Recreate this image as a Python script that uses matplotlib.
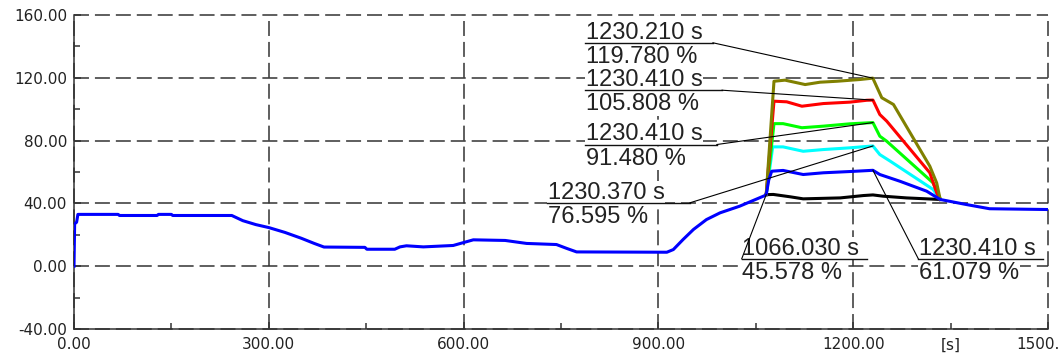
import matplotlib.pyplot as plt
from matplotlib.ticker import FixedLocator, FixedFormatter
from matplotlib.transforms import offset_copy

plt.rcParams['font.family'] = ['Liberation Sans', 'DejaVu Sans']

# blue trace, whole run
blue_t = [0, 1, 4, 6, 68, 70, 128, 130, 150, 152, 243, 260, 280, 300, 325, 350,
          370, 385, 448, 451, 494, 502, 512, 538, 584, 602, 615, 664, 697, 743,
          759, 774, 913, 923, 938, 954, 974, 995, 1025, 1064, 1066.03, 1070,
          1074.5, 1092, 1123, 1154, 1195, 1230.41, 1241, 1272, 1313, 1334, 1374,
          1410, 1500]
blue_v = [0, 27, 28, 33, 33, 32.3, 32.3, 33, 33, 32.3, 32.3, 29, 26.5, 24.6, 21.5,
          17.8, 14.5, 12.2, 12, 10.8, 10.8, 12.3, 13, 12.3, 13.2, 15.3, 16.8, 16.4,
          14.5, 13.8, 11.3, 9.1, 8.9, 10.6, 17, 23.4, 29.7, 34, 38.2, 45, 45.578,
          55, 60.5, 61, 58.4, 59.5, 60.3, 61.079, 58.4, 54.1, 47.8, 42.5, 39.3,
          36.6, 36.1]

# traces that only exist during the step
black_t = [1066.03, 1077, 1103, 1123, 1180, 1215.6, 1230.4, 1246, 1282, 1334]
black_v = [45.578, 45.7, 44.2, 42.9, 43.5, 45.0, 45.4, 44.6, 43.5, 42.5]

cyan_t = [1066.03, 1076, 1092, 1123, 1154, 1195, 1230.37, 1241, 1257, 1323, 1334]
cyan_v = [45.578, 76, 76, 73.2, 74.3, 75.4, 76.595, 71.1, 66.9, 48.9, 42.5]

green_t = [1066.03, 1078, 1092, 1121, 1154, 1195, 1230.41, 1241, 1251.6, 1323, 1334]
green_v = [45.578, 90.8, 90.8, 88.2, 89.2, 90.7, 91.48, 82.8, 79.6, 53.1, 43]

red_t = [1066.03, 1078, 1097.6, 1121, 1154, 1195, 1221, 1230.41, 1241, 1251.6,
         1318, 1328.6, 1334]
red_v = [45.578, 105.1, 104.7, 101.9, 103.6, 104.5, 105.7, 105.808, 96.6, 92.4,
         59.5, 46.7, 42.5]

olive_t = [1066.03, 1078, 1095, 1126, 1149, 1175, 1210, 1230.21, 1244, 1262,
           1318, 1328.6, 1334]
olive_v = [45.578, 117.8, 118.5, 115.7, 117.2, 117.8, 118.9, 119.78, 107.3, 103,
           63.7, 53, 42.5]

# cursor readouts
ann_t = [1230.21, 1230.41, 1230.41, 1230.37, 1066.03, 1230.41]
ann_v = [119.78, 105.808, 91.48, 76.595, 45.578, 61.079]

x_ticks = [0, 300, 600, 900, 1200, 1500]
y_ticks = [-40, 0, 40, 80, 120, 160]

fig = plt.figure(figsize=(10.58, 3.56), dpi=100)
ax = fig.add_axes([74 / 1058, 27 / 356, 974 / 1058, 314 / 356])

ax.plot(black_t, black_v, color='black', lw=2.2, zorder=3)
ax.plot(cyan_t, cyan_v, color='#00ffff', lw=2.2, zorder=3)
ax.plot(green_t, green_v, color='#00ff00', lw=2.2, zorder=3)
ax.plot(red_t, red_v, color='#ff0000', lw=2.2, zorder=3)
ax.plot(olive_t, olive_v, color='#808000', lw=2.2, zorder=3)
ax.plot(blue_t, blue_v, color='#0000ff', lw=2.2, zorder=4)

ax.set_xlim(0, 1500)
ax.set_ylim(-40, 160)
ax.set_xticks(x_ticks)
ax.set_xticklabels([f'{v:.2f}' for v in x_ticks])
ax.set_yticks(y_ticks)
ax.set_yticklabels([f'{v:.2f}' for v in y_ticks])
ax.xaxis.set_minor_locator(FixedLocator([150, 450, 750, 1050, 1350]))
ax.xaxis.set_minor_formatter(FixedFormatter(['', '', '', '', '[s]']))
ax.yaxis.set_minor_locator(FixedLocator([-20, 20, 60, 100, 140]))

ax.tick_params(which='both', direction='in', colors='#333333', labelcolor='#222222',
               labelsize=11, width=1.1)
ax.tick_params(which='major', length=5, pad=5)
ax.tick_params(which='minor', length=4, pad=5)
ax.tick_params(axis='x', which='both', pad=6)
for lab in ax.get_xticklabels(which='both') + ax.get_yticklabels():
    lab.set_family('DejaVu Sans')

for side in ['top', 'right']:
    ax.spines[side].set_visible(False)
for side in ['left', 'bottom']:
    ax.spines[side].set_color('#333333')
    ax.spines[side].set_linewidth(1.1)

ax.grid(True, which='major', color='#333333', lw=1.1, linestyle=(0, (9.8, 3.9)))
for gl in ax.get_xgridlines() + ax.get_ygridlines():
    gl.set_clip_on(False)

# label boxes: underline x0, x1, y and the end the leader starts from
boxes = [(787, 984, 142.3, 'right'), (787, 998, 112.1, 'right'),
         (787, 990, 77.5, 'right'), (728.5, 948.7, 40.4, 'right'),
         (1028.3, 1220.8, 4.7, 'left'), (1300.3, 1492.8, 4.7, 'left')]

above = offset_copy(ax.transData, fig=fig, y=3, units='points')
below = offset_copy(ax.transData, fig=fig, y=-14.4, units='points')
bg = dict(facecolor='white', edgecolor='none', pad=0.5)

for t, v, (x0, x1, yu, end) in zip(ann_t, ann_v, boxes):
    ax.plot([x0, x1], [yu, yu], color='#111111', lw=1.0, zorder=7)
    xs = x1 if end == 'right' else x0
    ax.plot([xs, t], [yu, v], color='black', lw=0.8, zorder=7)
    ax.text(x0 + 1, yu, f'{t:.3f} s', transform=above, fontsize=17,
            color='#222222', va='baseline', ha='left', zorder=6, bbox=bg)
    ax.text(x0 + 1, yu, f'{v:.3f} %', transform=below, fontsize=17,
            color='#222222', va='baseline', ha='left', zorder=6, bbox=bg)

fig.savefig('out.png', dpi=100)
